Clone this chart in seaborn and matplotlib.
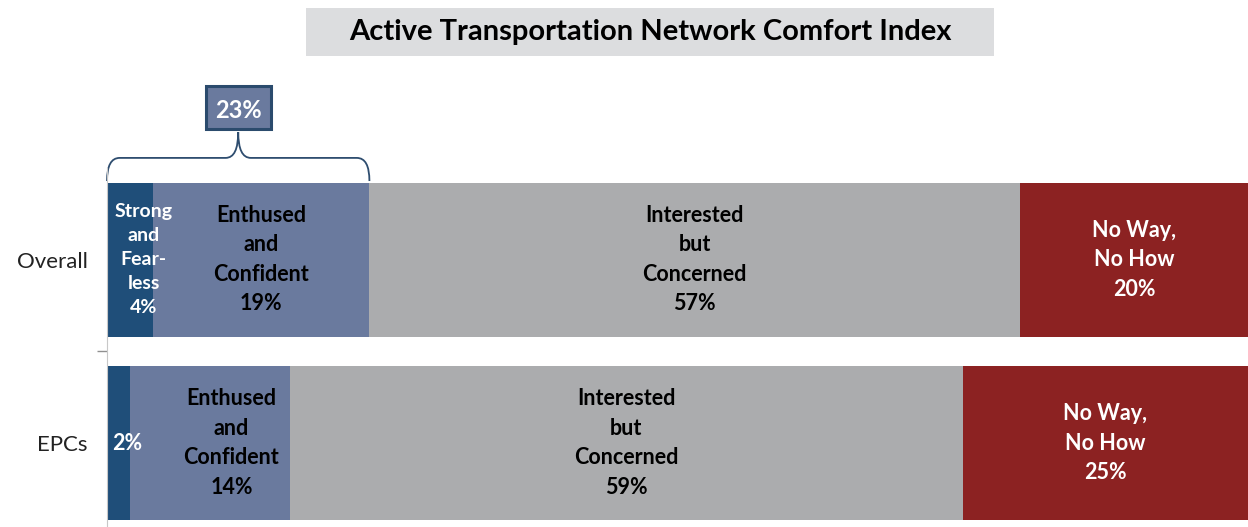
import pandas as pd
import matplotlib
matplotlib.use("Agg")
import matplotlib.pyplot as plt
from matplotlib.path import Path
from matplotlib.patches import PathPatch, Rectangle
import seaborn as sns

# dados do gráfico
categories = ["Overall", "EPCs"]
segments = ["Strong and Fearless", "Enthused and Confident",
            "Interested but Concerned", "No Way, No How"]
overall = [4, 19, 57, 20]
epcs = [2, 14, 59, 25]
overall_names = ["Strong\nand\nFear-\nless", "Enthused\nand\nConfident",
                 "Interested\nbut\nConcerned", "No Way,\nNo How"]
epcs_names = ["", "Enthused\nand\nConfident",
              "Interested\nbut\nConcerned", "No Way,\nNo How"]
colors = ["#1F4E79", "#6A7A9E", "#ABACAE", "#8C2222"]
text_colors = ["white", "black", "black", "white"]

sns.set_style("white")
plt.rcParams["font.family"] = ["Lato", "DejaVu Sans"]

df = pd.DataFrame({"categoria": categories * len(segments),
                   "segmento": [s for s in segments for _ in categories],
                   "valor": [v for pair in zip(overall, epcs) for v in pair]})
df["acumulado"] = df.groupby("categoria")["valor"].cumsum()

fig = plt.figure(figsize=(12.48, 5.27), dpi=100)
ax = fig.add_axes([107 / 1248, 0, 1 - 107 / 1248, 1 - 168 / 527])

# barras empilhadas: desenha do acumulado maior para o menor
for seg, cor in reversed(list(zip(segments, colors))):
    sub = df[df["segmento"] == seg]
    sns.barplot(data=sub, x="acumulado", y="categoria", order=categories,
                color=cor, saturation=1, width=0.84, orient="h", ax=ax,
                linewidth=0)

ax.set_xlim(0, 100)
ax.set_ylim(1.457, -0.5)
ax.set_xlabel("")
ax.set_ylabel("")
ax.set_xticks([])
ax.tick_params(axis="y", length=0, labelsize=16, pad=14, labelcolor="#222222")
ax.set_yticks([0.5], minor=True)
ax.tick_params(axis="y", which="minor", left=True, length=7, color="#909090",
               width=1)
for s in ["top", "right", "bottom"]:
    ax.spines[s].set_visible(False)
ax.spines["left"].set_color("#C8C8C8")

# rótulos dos segmentos
nudges = {("Overall", 0): 1.2, ("EPCs", 0): 0.8, ("EPCs", 1): 1.9}
for row, (cat, vals, names) in enumerate(zip(categories, [overall, epcs],
                                             [overall_names, epcs_names])):
    start = 0
    for i, (v, nome) in enumerate(zip(vals, names)):
        txt = (nome + "\n" if nome else "") + f"{v}%"
        x = start + v / 2 + nudges.get((cat, i), 0)
        small = (row == 0 and i == 0)
        ax.text(x, row, txt, ha="center", va="center", color=text_colors[i],
                fontsize=14 if small else 15.5, fontweight="bold",
                linespacing=1.5)
        start += v

# chave sobre os dois primeiros segmentos do Overall
total = overall[0] + overall[1]
x0, x1, xm, r = 0, total, total / 2, 1.1
yb, yl, yp = -0.429, -0.555, -0.696
verts = [(x0, yb), (x0, yl), (x0 + r, yl), (xm - r, yl), (xm, yl), (xm, yp),
         (xm, yl), (xm + r, yl), (x1 - r, yl), (x1, yl), (x1, yb)]
codes = [Path.MOVETO, Path.CURVE3, Path.CURVE3, Path.LINETO, Path.CURVE3,
         Path.CURVE3, Path.CURVE3, Path.CURVE3, Path.LINETO, Path.CURVE3,
         Path.CURVE3]
ax.add_patch(PathPatch(Path(verts, codes), fill=False, edgecolor="#2E4D6F",
                       lw=1.3, clip_on=False))
ax.add_patch(Rectangle((xm - 2.85, -0.947), 5.7, 0.234, facecolor="#6A7A9E",
                       edgecolor="#2B4B6D", lw=2.2, clip_on=False, zorder=5))
ax.text(xm, -0.815, f"{total}%", ha="center", va="center", color="white",
        fontsize=17, fontweight="bold", zorder=6)

# título com caixa cinza
fig.patches.append(Rectangle((306 / 1248, 1 - 56 / 527), 688 / 1248, 48 / 527,
                             transform=fig.transFigure, facecolor="#DCDDDF",
                             edgecolor="none"))
fig.text(650 / 1248, 1 - 32 / 527, "Active Transportation Network Comfort Index",
         ha="center", va="center", fontsize=21, fontweight="bold", color="black")

fig.savefig("out.png", dpi=100)
